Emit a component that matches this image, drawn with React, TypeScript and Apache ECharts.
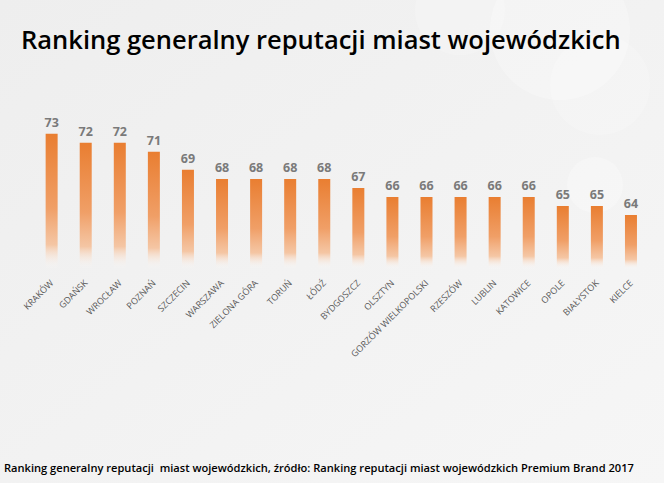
import React, { useEffect, useRef } from "react";
import * as echarts from "echarts";

const cities = [
  "KRAKÓW", "GDAŃSK", "WROCŁAW", "POZNAŃ", "SZCZECIN", "WARSZAWA", "ZIELONA GÓRA", "TORUŃ", "ŁÓDŹ",
  "BYDGOSZCZ", "OLSZTYN", "GORZÓW WIELKOPOLSKI", "RZESZÓW", "LUBLIN", "KATOWICE", "OPOLE", "BIAŁYSTOK", "KIELCE",
];
const scores = [73, 72, 72, 71, 69, 68, 68, 68, 68, 67, 66, 66, 66, 66, 66, 65, 65, 64];

const titleText = "Ranking generalny reputacji miast wojewódzkich";
const footerText =
  "Ranking generalny reputacji  miast wojewódzkich, źródło: Ranking reputacji miast wojewódzkich Premium Brand 2017";

export default function App() {
  const ref = useRef<HTMLDivElement>(null);
  useEffect(() => {
    if (!ref.current) return;
    const chart = echarts.init(ref.current, null, { renderer: "svg" });
    chart.setOption({
      animation: false,
      backgroundColor: new echarts.graphic.LinearGradient(0, 0, 1, 1, [
        { offset: 0, color: "#eeeeee" },
        { offset: 0.5, color: "#f2f2f2" },
        { offset: 1, color: "#f6f6f6" },
      ]),
      graphic: [
        { type: "circle", z: -10, shape: { cx: 560, cy: 30, r: 70 }, style: { fill: "rgba(255,255,255,0.25)" } },
        { type: "circle", z: -10, shape: { cx: 600, cy: 85, r: 50 }, style: { fill: "rgba(255,255,255,0.2)" } },
        { type: "circle", z: -10, shape: { cx: 595, cy: 185, r: 28 }, style: { fill: "rgba(255,255,255,0.25)" } },
        { type: "circle", z: -10, shape: { cx: 460, cy: 10, r: 45 }, style: { fill: "rgba(255,255,255,0.2)" } },
        {
          type: "text",
          left: 21,
          top: 26,
          style: {
            text: titleText,
            font: "600 25.5px 'Open Sans'",
            fill: "#000000",
          },
        },
        {
          type: "text",
          left: 4,
          top: 462,
          style: {
            text: footerText,
            font: "600 11.1px 'Open Sans'",
            fill: "#000000",
          },
        },
      ],
      grid: { left: 34.6, right: 16, top: 70.5, bottom: 213.8 },
      xAxis: {
        type: "category",
        data: cities,
        axisLine: { show: false },
        axisTick: { show: false },
        axisLabel: {
          rotate: 45,
          interval: 0,
          margin: 12,
          color: "#595959",
          fontFamily: "Open Sans",
          fontSize: 9,
        },
      },
      yAxis: {
        type: "value",
        min: 58,
        max: 80,
        show: false,
        splitLine: { show: false },
      },
      series: [
        {
          type: "bar",
          data: scores,
          barWidth: 12,
          itemStyle: {
            color: new echarts.graphic.LinearGradient(0, 0, 0, 1, [
              { offset: 0, color: "#E97E31" },
              { offset: 0.55, color: "#F09F67" },
              { offset: 0.82, color: "rgba(245,190,150,0.85)" },
              { offset: 1, color: "rgba(255,255,255,0)" },
            ]),
          },
          label: {
            show: true,
            position: "top",
            distance: 5,
            color: "#7a7a7a",
            fontFamily: "Open Sans",
            fontWeight: "bold",
            fontSize: 12.5,
          },
        },
      ],
    });
    return () => chart.dispose();
  }, []);
  return (
    <div
      ref={ref}
      style={{ position: "absolute", left: 0, top: 0, width: 664, height: 483 }}
    />
  );
}
